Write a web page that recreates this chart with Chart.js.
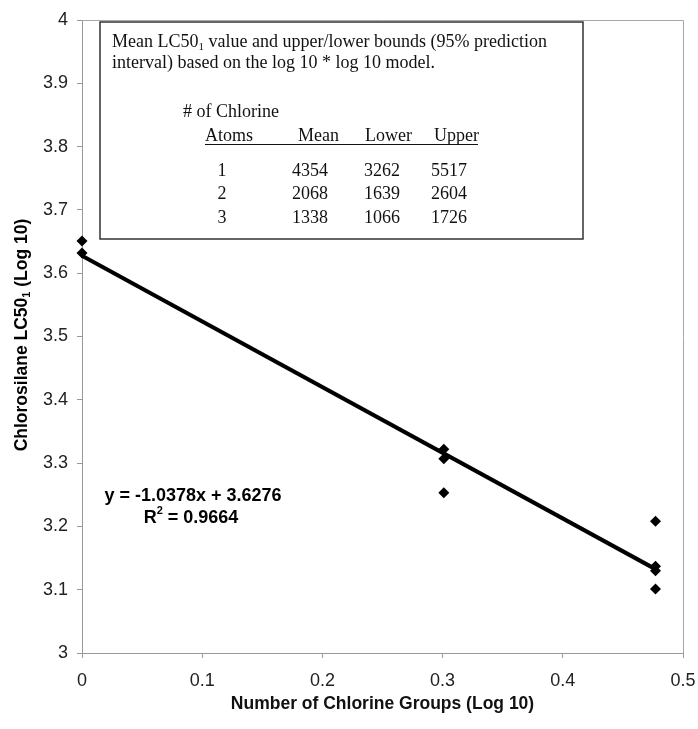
<!DOCTYPE html>
<html>
<head>
<meta charset="utf-8">
<script src="https://cdn.jsdelivr.net/npm/chart.js@4.4.1/dist/chart.umd.min.js"></script>
<style>
  html, body { margin: 0; padding: 0; background: #fff; }
  #wrap { width: 698px; height: 729px; }
</style>
</head>
<body>
<div id="wrap"><canvas id="grafico" width="698" height="729"></canvas></div>
<script>
// valores
const pontosX = [0, 0, 0.301, 0.301, 0.301, 0.4771, 0.4771, 0.4771, 0.4771];
const pontosY = [3.651, 3.632, 3.322, 3.307, 3.253, 3.208, 3.137, 3.130, 3.101];

// linha de tendência (extremos)
const linhaX = [0, 0.4771];
const linhaY = [3.6276, 3.1325];

const equacao = 'y = -1.0378x + 3.6276';
const r2Texto = ' = 0.9664';

// tabela da caixa
const colunas = ['Atoms', 'Mean', 'Lower', 'Upper'];
const atomos = ['1', '2', '3'];
const medias = ['4354', '2068', '1338'];
const inferiores = ['3262', '1639', '1066'];
const superiores = ['5517', '2604', '1726'];

const sans = '"Liberation Sans", Arial, sans-serif';
const serif = '"Liberation Serif", "Times New Roman", serif';

const caixaPlugin = {
    id: 'caixa',
    beforeDatasetsDraw(chart) {
        const { ctx, chartArea: a } = chart;
        ctx.save();
        ctx.strokeStyle = '#a8a8a8';
        ctx.lineWidth = 1;
        ctx.beginPath();
        ctx.moveTo(a.left, a.top + 0.5);
        ctx.lineTo(a.right + 0.5, a.top + 0.5);
        ctx.lineTo(a.right + 0.5, a.bottom);
        ctx.stroke();
        ctx.restore();
    },
    afterDraw(chart) {
        const ctx = chart.ctx;
        ctx.save();

        // caixa com a tabela
        ctx.fillStyle = '#fff';
        ctx.fillRect(100, 22, 483, 217);
        ctx.strokeStyle = '#333';
        ctx.lineWidth = 1.5;
        ctx.strokeRect(100, 22, 483, 217);

        ctx.fillStyle = '#111';
        ctx.textBaseline = 'middle';
        ctx.textAlign = 'left';
        ctx.font = '18px ' + serif;
        let x = 112;
        ctx.fillText('Mean LC50', x, 42);
        x += ctx.measureText('Mean LC50').width;
        ctx.font = '11px ' + serif;
        ctx.fillText('1', x, 47);
        x += ctx.measureText('1').width;
        ctx.font = '18px ' + serif;
        ctx.fillText(' value and upper/lower bounds (95% prediction', x, 42);
        ctx.fillText('interval) based on the log 10 * log 10 model.', 112, 63);

        ctx.fillText('# of Chlorine', 183, 112);
        const colX = [205, 298, 365, 434];
        colunas.forEach((c, i) => ctx.fillText(c, colX[i], 136));
        ctx.strokeStyle = '#111';
        ctx.lineWidth = 1;
        ctx.beginPath();
        ctx.moveTo(205, 144.5);
        ctx.lineTo(478, 144.5);
        ctx.stroke();

        const linhasY = [171, 194, 218];
        atomos.forEach((v, i) => {
            ctx.textAlign = 'center';
            ctx.fillText(v, 222, linhasY[i]);
            ctx.textAlign = 'left';
            ctx.fillText(medias[i], 292, linhasY[i]);
            ctx.fillText(inferiores[i], 364, linhasY[i]);
            ctx.fillText(superiores[i], 431, linhasY[i]);
        });

        // equação da regressão
        ctx.fillStyle = '#000';
        ctx.font = 'bold 18px ' + sans;
        ctx.textAlign = 'center';
        ctx.fillText(equacao, 193, 496);
        ctx.textAlign = 'left';
        const wR = ctx.measureText('R').width;
        ctx.font = 'bold 11px ' + sans;
        const w2 = ctx.measureText('2').width;
        ctx.font = 'bold 18px ' + sans;
        const wResto = ctx.measureText(r2Texto).width;
        let rx = 191 - (wR + w2 + wResto) / 2;
        ctx.fillText('R', rx, 518);
        rx += wR;
        ctx.font = 'bold 11px ' + sans;
        ctx.fillText('2', rx, 511);
        rx += w2;
        ctx.font = 'bold 18px ' + sans;
        ctx.fillText(r2Texto, rx, 518);

        // título do eixo y com subscrito
        ctx.translate(22, 335);
        ctx.rotate(-Math.PI / 2);
        ctx.font = 'bold 17.5px ' + sans;
        const p1 = 'Chlorosilane LC50', p2 = ' (Log 10)';
        const w1 = ctx.measureText(p1).width;
        const w3 = ctx.measureText(p2).width;
        ctx.font = 'bold 11px ' + sans;
        const wSub = ctx.measureText('1').width;
        let tx = -(w1 + wSub + w3) / 2;
        ctx.font = 'bold 17.5px ' + sans;
        ctx.fillText(p1, tx, 0);
        tx += w1;
        ctx.font = 'bold 11px ' + sans;
        ctx.fillText('1', tx, 5);
        tx += wSub;
        ctx.font = 'bold 17.5px ' + sans;
        ctx.fillText(p2, tx, 0);

        ctx.restore();
    }
};

const ctx = document.getElementById('grafico').getContext('2d');

const meuGrafico = new Chart(ctx, {
    type: 'scatter',
    data: {
        datasets: [
            {
                label: 'Dados',
                data: pontosX.map((v, i) => ({ x: v, y: pontosY[i] })),
                pointStyle: 'rectRot',
                pointRadius: 5.5,
                pointHoverRadius: 5.5,
                backgroundColor: '#000',
                borderColor: '#000',
                borderWidth: 0,
                clip: false,
            },
            {
                label: 'Tendência',
                data: linhaX.map((v, i) => ({ x: v, y: linhaY[i] })),
                showLine: true,
                borderColor: '#000',
                borderWidth: 4,
                pointRadius: 0,
                fill: false,
                clip: false,
            }
        ]
    },
    options: {
        responsive: false,
        devicePixelRatio: 1,
        animation: false,
        layout: { padding: { top: 20, right: 15, left: 0, bottom: 0 } },
        plugins: {
            legend: { display: false },
            tooltip: { enabled: false }
        },
        scales: {
            x: {
                type: 'linear',
                min: 0,
                max: 0.5,
                afterFit: (s) => { s.height = 76; s.paddingLeft = 0; s.paddingRight = 0; },
                ticks: {
                    stepSize: 0.1,
                    padding: 12,
                    color: '#222',
                    font: { family: sans, size: 18 },
                    callback: (v) => String(Number(v.toFixed(1)))
                },
                grid: { drawOnChartArea: false, tickLength: 5, color: '#999' },
                border: { color: '#999' },
                title: {
                    display: true,
                    text: 'Number of Chlorine Groups (Log 10)',
                    color: '#111',
                    font: { family: sans, size: 17.5, weight: 'bold' },
                    padding: { top: 0, bottom: 14 }
                }
            },
            y: {
                type: 'linear',
                min: 3,
                max: 4,
                afterFit: (s) => { s.width = 82; },
                ticks: {
                    stepSize: 0.1,
                    padding: 9,
                    color: '#222',
                    font: { family: sans, size: 18 },
                    callback: (v) => String(Number(v.toFixed(1)))
                },
                grid: { drawOnChartArea: false, tickLength: 5, color: '#999' },
                border: { color: '#999' }
            }
        }
    },
    plugins: [caixaPlugin]
});
</script>
</body>
</html>
